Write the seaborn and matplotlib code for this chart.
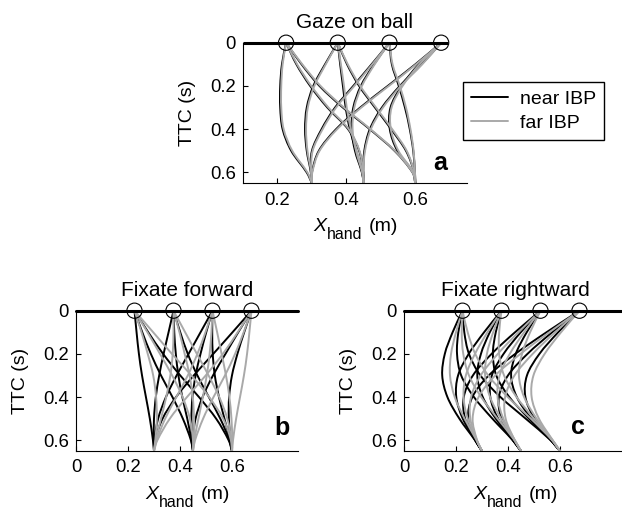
import matplotlib
matplotlib.use("Agg")
import matplotlib.pyplot as plt
import matplotlib.transforms as mtransforms
import pandas as pd
import seaborn as sns
from matplotlib.lines import Line2D
from matplotlib.path import Path
from matplotlib.patches import PathPatch

# Time-to-contact levels at which each hand path is sampled (s)
TTC_LEVELS = [0.0, 0.1, 0.2, 0.3, 0.4, 0.5, 0.6, 0.65]
# Interception points (ball arrival, TTC = 0) and initial hand positions (m)
BALL_X = [0.225, 0.375, 0.525, 0.675]
HAND_X = [0.3, 0.45, 0.6]

# Hand position X_hand (m) at each TTC level; one row per path,
# ordered by interception point, then by initial hand position.
GAZE_NEAR = [
    [0.225, 0.213, 0.208, 0.208, 0.215, 0.240, 0.285, 0.300],
    [0.225, 0.255, 0.295, 0.345, 0.405, 0.437, 0.449, 0.450],
    [0.225, 0.270, 0.322, 0.390, 0.468, 0.540, 0.592, 0.600],
    [0.375, 0.338, 0.304, 0.285, 0.280, 0.285, 0.297, 0.300],
    [0.375, 0.382, 0.390, 0.398, 0.410, 0.428, 0.446, 0.450],
    [0.375, 0.402, 0.437, 0.483, 0.530, 0.573, 0.597, 0.600],
    [0.525, 0.473, 0.420, 0.367, 0.328, 0.300, 0.297, 0.300],
    [0.525, 0.480, 0.442, 0.420, 0.415, 0.425, 0.445, 0.450],
    [0.525, 0.532, 0.552, 0.570, 0.584, 0.594, 0.599, 0.600],
    [0.675, 0.600, 0.520, 0.440, 0.370, 0.320, 0.300, 0.300],
    [0.675, 0.618, 0.555, 0.503, 0.468, 0.452, 0.449, 0.450],
    [0.675, 0.610, 0.560, 0.528, 0.526, 0.548, 0.594, 0.600],
]
GAZE_FAR = [
    [0.225, 0.215, 0.211, 0.211, 0.218, 0.243, 0.287, 0.300],
    [0.225, 0.257, 0.298, 0.348, 0.407, 0.438, 0.449, 0.450],
    [0.225, 0.272, 0.325, 0.393, 0.470, 0.541, 0.592, 0.600],
    [0.375, 0.340, 0.307, 0.288, 0.283, 0.287, 0.298, 0.300],
    [0.375, 0.384, 0.393, 0.401, 0.413, 0.430, 0.447, 0.450],
    [0.375, 0.404, 0.440, 0.486, 0.533, 0.575, 0.597, 0.600],
    [0.525, 0.475, 0.423, 0.370, 0.331, 0.302, 0.298, 0.300],
    [0.525, 0.482, 0.445, 0.423, 0.418, 0.428, 0.446, 0.450],
    [0.525, 0.534, 0.555, 0.573, 0.586, 0.595, 0.599, 0.600],
    [0.675, 0.602, 0.523, 0.443, 0.373, 0.322, 0.301, 0.300],
    [0.675, 0.620, 0.558, 0.506, 0.471, 0.454, 0.449, 0.450],
    [0.675, 0.612, 0.563, 0.531, 0.529, 0.551, 0.595, 0.600],
]
FORWARD_NEAR = [
    [0.225, 0.233, 0.242, 0.254, 0.269, 0.284, 0.296, 0.300],
    [0.225, 0.255, 0.288, 0.327, 0.371, 0.411, 0.442, 0.450],
    [0.225, 0.278, 0.335, 0.401, 0.473, 0.539, 0.587, 0.600],
    [0.375, 0.356, 0.337, 0.320, 0.307, 0.300, 0.299, 0.300],
    [0.375, 0.378, 0.384, 0.394, 0.409, 0.428, 0.444, 0.450],
    [0.375, 0.401, 0.430, 0.467, 0.511, 0.555, 0.590, 0.600],
    [0.525, 0.479, 0.433, 0.387, 0.346, 0.316, 0.301, 0.300],
    [0.525, 0.501, 0.479, 0.460, 0.448, 0.444, 0.447, 0.450],
    [0.525, 0.524, 0.526, 0.534, 0.550, 0.571, 0.592, 0.600],
    [0.675, 0.602, 0.528, 0.453, 0.385, 0.333, 0.304, 0.300],
    [0.675, 0.624, 0.575, 0.527, 0.487, 0.460, 0.449, 0.450],
    [0.675, 0.647, 0.621, 0.600, 0.589, 0.588, 0.595, 0.600],
]
FORWARD_FAR = [
    [0.225, 0.252, 0.276, 0.297, 0.308, 0.311, 0.305, 0.300],
    [0.225, 0.275, 0.323, 0.370, 0.410, 0.438, 0.450, 0.450],
    [0.225, 0.297, 0.369, 0.444, 0.512, 0.566, 0.596, 0.600],
    [0.375, 0.375, 0.372, 0.363, 0.347, 0.327, 0.307, 0.300],
    [0.375, 0.398, 0.418, 0.437, 0.449, 0.454, 0.453, 0.450],
    [0.375, 0.420, 0.465, 0.510, 0.551, 0.582, 0.598, 0.600],
    [0.525, 0.498, 0.467, 0.430, 0.386, 0.343, 0.310, 0.300],
    [0.525, 0.521, 0.514, 0.503, 0.488, 0.471, 0.455, 0.450],
    [0.525, 0.543, 0.560, 0.577, 0.590, 0.598, 0.601, 0.600],
    [0.675, 0.622, 0.565, 0.499, 0.427, 0.361, 0.313, 0.300],
    [0.675, 0.645, 0.612, 0.573, 0.529, 0.489, 0.458, 0.450],
    [0.675, 0.667, 0.658, 0.646, 0.631, 0.616, 0.604, 0.600],
]
RIGHTWARD_NEAR = [
    [0.225, 0.187, 0.157, 0.147, 0.167, 0.213, 0.273, 0.300],
    [0.225, 0.209, 0.204, 0.220, 0.269, 0.340, 0.418, 0.450],
    [0.225, 0.232, 0.250, 0.294, 0.371, 0.468, 0.564, 0.600],
    [0.375, 0.308, 0.249, 0.208, 0.201, 0.226, 0.274, 0.300],
    [0.375, 0.330, 0.296, 0.282, 0.303, 0.353, 0.419, 0.450],
    [0.375, 0.353, 0.342, 0.355, 0.405, 0.481, 0.565, 0.600],
    [0.525, 0.427, 0.337, 0.265, 0.230, 0.235, 0.274, 0.300],
    [0.525, 0.449, 0.383, 0.338, 0.332, 0.362, 0.419, 0.450],
    [0.525, 0.472, 0.430, 0.412, 0.434, 0.490, 0.565, 0.600],
    [0.675, 0.548, 0.428, 0.326, 0.263, 0.247, 0.275, 0.300],
    [0.675, 0.570, 0.475, 0.400, 0.365, 0.375, 0.421, 0.450],
    [0.675, 0.593, 0.521, 0.473, 0.467, 0.502, 0.566, 0.600],
]
RIGHTWARD_FAR = [
    [0.225, 0.200, 0.181, 0.177, 0.195, 0.233, 0.279, 0.300],
    [0.225, 0.222, 0.228, 0.250, 0.297, 0.360, 0.425, 0.450],
    [0.225, 0.245, 0.274, 0.324, 0.399, 0.488, 0.570, 0.600],
    [0.375, 0.321, 0.273, 0.238, 0.229, 0.245, 0.280, 0.300],
    [0.375, 0.343, 0.319, 0.312, 0.331, 0.373, 0.426, 0.450],
    [0.375, 0.366, 0.366, 0.385, 0.433, 0.500, 0.571, 0.600],
    [0.525, 0.440, 0.361, 0.295, 0.258, 0.255, 0.280, 0.300],
    [0.525, 0.462, 0.407, 0.368, 0.360, 0.382, 0.426, 0.450],
    [0.525, 0.485, 0.454, 0.442, 0.462, 0.510, 0.571, 0.600],
    [0.675, 0.559, 0.448, 0.351, 0.287, 0.264, 0.281, 0.300],
    [0.675, 0.581, 0.495, 0.425, 0.389, 0.391, 0.426, 0.450],
    [0.675, 0.604, 0.541, 0.498, 0.491, 0.519, 0.572, 0.600],
]

IBP_LABELS = ["near IBP", "far IBP"]
PALETTE = {"near IBP": "#000000", "far IBP": "#a9a9a9"}

FIG_W, FIG_H = 622, 513
PANELS = [
    # title, letter, near, far, axes box in pixels (left, top, width, height), xlim, xticks
    ("Gaze on ball", "a", GAZE_NEAR, GAZE_FAR,
     (243, 42.7, 224, 140.6), (0.1, 0.75), [0.2, 0.4, 0.6]),
    ("Fixate forward", "b", FORWARD_NEAR, FORWARD_FAR,
     (76, 310.7, 222, 140.3), (0.0, 0.854), [0, 0.2, 0.4, 0.6]),
    ("Fixate rightward", "c", RIGHTWARD_NEAR, RIGHTWARD_FAR,
     (404, 310.7, 222, 140.3), (0.0, 0.854), [0, 0.2, 0.4, 0.6]),
]
LETTER_POS = {"a": (0.671, 0.557), "b": (0.794, 0.544), "c": (0.671, 0.537)}


def paths_frame(near, far):
    rows = []
    for label, paths in zip(IBP_LABELS, (near, far)):
        for k, path in enumerate(paths):
            for ttc, x in zip(TTC_LEVELS, path):
                rows.append({"ibp": label, "curve": f"{label}-{k}", "ttc": ttc, "x": x})
    return pd.DataFrame(rows)


def smooth_line(ax, line):
    """Replace a polyline by a cubic Hermite path through the same points."""
    xs, ts = [list(v) for v in line.get_data()]
    n = len(xs)
    slopes = []
    for i in range(n):
        lo, hi = max(i - 1, 0), min(i + 1, n - 1)
        slopes.append((xs[hi] - xs[lo]) / (ts[hi] - ts[lo]))
    verts = [(xs[0], ts[0])]
    codes = [Path.MOVETO]
    for i in range(n - 1):
        h = ts[i + 1] - ts[i]
        verts += [(xs[i] + slopes[i] * h / 3, ts[i] + h / 3),
                  (xs[i + 1] - slopes[i + 1] * h / 3, ts[i + 1] - h / 3),
                  (xs[i + 1], ts[i + 1])]
        codes += [Path.CURVE4] * 3
    ax.add_patch(PathPatch(Path(verts, codes), facecolor="none",
                           edgecolor=line.get_color(), lw=line.get_linewidth(),
                           zorder=line.get_zorder(), capstyle="round"))
    line.remove()


sns.set_style("ticks")
plt.rcParams["font.family"] = ["Liberation Sans", "DejaVu Sans"]
plt.rcParams["text.color"] = "black"
plt.rcParams["axes.labelcolor"] = "black"

fig = plt.figure(figsize=(FIG_W / 100, FIG_H / 100), dpi=100)

for title, letter, near, far, box, xlim, xticks in PANELS:
    left, top, w_px, h_px = box
    ax = fig.add_axes([left / FIG_W, 1 - (top + h_px) / FIG_H, w_px / FIG_W, h_px / FIG_H])
    df = paths_frame(near, far)
    n_before = len(ax.lines)
    sns.lineplot(data=df, x="x", y="ttc", hue="ibp", hue_order=IBP_LABELS,
                 palette=PALETTE, units="curve", estimator=None, sort=False,
                 legend=False, linewidth=1.4, ax=ax)
    for line in list(ax.lines[n_before:]):
        smooth_line(ax, line)

    # interception line at TTC = 0 and the ball arrival markers
    if letter == "a":
        ax.plot([xlim[0], 0.695], [0, 0], color="black", lw=2.2,
                solid_capstyle="butt", clip_on=False, zorder=4)
    else:
        ax.axhline(0, color="black", lw=2.2, clip_on=False, zorder=4)
    ax.scatter(BALL_X, [0] * len(BALL_X), s=120, facecolors="none",
               edgecolors="black", linewidths=0.8, clip_on=False, zorder=5)

    ax.set_xlim(*xlim)
    ax.set_ylim(0.65, 0)
    ax.set_xticks(xticks)
    ax.set_xticklabels(["0" if t == 0 else f"{t:.1f}" for t in xticks])
    ax.set_yticks([0, 0.2, 0.4, 0.6])
    ax.set_yticklabels(["0", "0.2", "0.4", "0.6"])
    ax.tick_params(direction="in", length=3.5, width=0.8, labelsize=13.3,
                   colors="black")
    ax.tick_params(axis="x", pad=6)
    ax.tick_params(axis="y", pad=5)
    sns.despine(ax=ax)
    for side in ("left", "bottom"):
        ax.spines[side].set_linewidth(0.8)
        ax.spines[side].set_color("black")

    ax.set_title(title, fontsize=15, pad=10.5, color="black")
    ax.set_ylabel("TTC (s)", fontsize=14, color="black")
    ax.yaxis.set_label_coords(-47 / w_px, 0.5)
    ax.set_xlabel("")

    # x-axis label: italic X, subscript "hand", then the unit
    x0 = 0.5 - 41.5 / w_px
    y0 = -48 / h_px
    ax.text(x0, y0, "X", style="italic", fontsize=14, va="baseline", ha="left",
            color="black", transform=ax.transAxes)
    ax.text(x0, y0, "hand", fontsize=11.4, va="baseline", ha="left", color="black",
            transform=mtransforms.offset_copy(ax.transAxes, fig=fig, x=13.5, y=-8, units="dots"))
    ax.text(x0, y0, "(m)", fontsize=14, va="baseline", ha="left", color="black",
            transform=mtransforms.offset_copy(ax.transAxes, fig=fig, x=55.5, y=0, units="dots"))

    lx, ly = LETTER_POS[letter]
    ax.text(lx, ly, letter, fontsize=18, fontweight="bold", ha="center",
            va="center", color="black")

handles = [Line2D([], [], color=PALETTE[k], lw=1.4) for k in IBP_LABELS]
leg = fig.legend(handles, IBP_LABELS, loc="upper left",
                 bbox_to_anchor=(463 / FIG_W, 1 - 82 / FIG_H),
                 bbox_transform=fig.transFigure, frameon=True, fancybox=False,
                 edgecolor="black", framealpha=1, borderaxespad=0,
                 fontsize=14, handlelength=1.9, handletextpad=0.62,
                 labelspacing=0.34, borderpad=0.42, labelcolor="black")
leg.get_frame().set_linewidth(1.0)

fig.savefig("out.png", dpi=100)
